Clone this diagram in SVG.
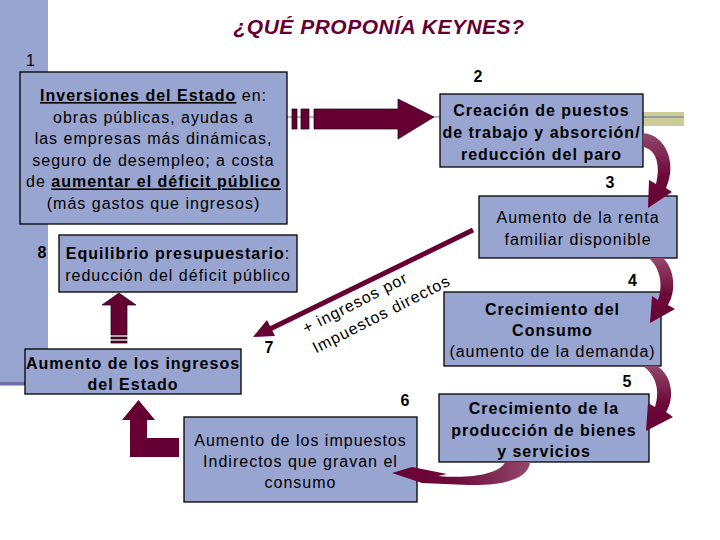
<svg xmlns="http://www.w3.org/2000/svg" width="720" height="540" viewBox="0 0 720 540">
<style>
.box{fill:#98A5D0;stroke:#000;stroke-width:1.3}
.t{font-family:"Liberation Sans",Arial,sans-serif;font-size:16px;letter-spacing:1px;fill:#000;text-anchor:middle}
.b{font-weight:bold}
.u{text-decoration:underline}
.num{font-family:"Liberation Sans",Arial,sans-serif;font-size:16px;fill:#000;text-anchor:middle}
.dr{fill:#660033;stroke:#1a0010;stroke-width:0.7}
.lbl{font-family:"Liberation Sans",Arial,sans-serif;font-size:16px;letter-spacing:1px;fill:#000}
</style>
<defs>
<linearGradient id="gv" x1="0" y1="0" x2="0" y2="1">
<stop offset="0" stop-color="#93486c"/>
<stop offset="0.55" stop-color="#6e0a3a"/>
<stop offset="1" stop-color="#660033"/>
</linearGradient>
<linearGradient id="gh" x1="1" y1="0" x2="0" y2="0">
<stop offset="0" stop-color="#93486c"/>
<stop offset="0.55" stop-color="#6e0a3a"/>
<stop offset="1" stop-color="#660033"/>
</linearGradient>
</defs>
<rect x="0" y="0" width="720" height="540" fill="#fff"/>
<g id="background">
<rect x="0" y="0" width="48" height="383" fill="#98A5D0"/>
<rect x="0" y="382" width="30" height="3.5" fill="#6C70A3"/>
<rect x="643" y="112" width="41" height="14" fill="#CCCC99"/>
<line x1="287" y1="117" x2="684" y2="117" stroke="#6C70A3" stroke-width="1.2"/>
</g>
<text x="379" y="34" font-family="'Liberation Sans',Arial,sans-serif" font-size="21" font-weight="bold" font-style="italic" letter-spacing="0.5" fill="#660033" text-anchor="middle">¿QUÉ PROPONÍA KEYNES?</text>

<g id="n1">
<rect class="box" x="20" y="72" width="267" height="152"/>
<text class="num" x="30.5" y="66">1</text>
<text class="t" x="153.5" y="101"><tspan class="b u">Inversiones del Estado</tspan> en:</text>
<text class="t" x="153.5" y="122.6">obras públicas, ayudas a</text>
<text class="t" x="153.5" y="144.2">las empresas más dinámicas,</text>
<text class="t" x="153.5" y="165.8">seguro de desempleo; a costa</text>
<text class="t" x="153.5" y="187.4">de <tspan class="b u">aumentar el déficit público</tspan></text>
<text class="t" x="153.5" y="209">(más gastos que ingresos)</text>
</g>
<g id="n2">
<rect class="box" x="440" y="94" width="203" height="73"/>
<text class="num b" x="478" y="82">2</text>
<text class="t b" x="541.5" y="116">Creación de puestos</text>
<text class="t b" x="541.5" y="138">de trabajo y absorción/</text>
<text class="t b" x="541.5" y="160">reducción del paro</text>
</g>
<g id="n3">
<rect class="box" x="479" y="196" width="198" height="62"/>
<text class="num b" x="610" y="188">3</text>
<text class="t" x="578" y="223">Aumento de la renta</text>
<text class="t" x="578" y="245">familiar disponible</text>
</g>
<g id="n4">
<rect class="box" x="444" y="292" width="217" height="74"/>
<text class="num b" x="632.5" y="286">4</text>
<text class="t b" x="552.5" y="315">Crecimiento del</text>
<text class="t b" x="552.5" y="336">Consumo</text>
<text class="t" x="552.5" y="357">(aumento de la demanda)</text>
</g>
<g id="n5">
<rect class="box" x="439" y="394" width="210" height="68"/>
<text class="num b" x="627" y="387">5</text>
<text class="t b" x="544" y="414">Crecimiento de la</text>
<text class="t b" x="544" y="436">producción de bienes</text>
<text class="t b" x="544" y="457">y servicios</text>
</g>
<g id="n6">
<rect class="box" x="184" y="417" width="233" height="85"/>
<text class="num b" x="405" y="406">6</text>
<text class="t" x="300.5" y="446">Aumento de los impuestos</text>
<text class="t" x="300.5" y="467">Indirectos que gravan el</text>
<text class="t" x="300.5" y="488">consumo</text>
</g>
<g id="n7">
<rect class="box" x="25" y="349" width="216" height="45"/>
<text class="num b" x="269" y="353">7</text>
<text class="t b" x="133" y="369">Aumento de los ingresos</text>
<text class="t b" x="133" y="390">del Estado</text>
</g>
<g id="n8">
<rect class="box" x="59" y="235" width="238" height="57"/>
<text class="num b" x="42" y="258">8</text>
<text class="t" x="178" y="259"><tspan class="b">Equilibrio presupuestario</tspan>:</text>
<text class="t" x="178" y="281">reducción del déficit público</text>
</g>

<g id="connectors">
<g id="c1-2">
<rect class="dr" x="292" y="109" width="5" height="20"/>
<rect class="dr" x="301" y="109" width="8" height="20"/>
<polygon class="dr" points="314,109 398,109 398,99 434,117 398,139 398,129 314,129"/>
</g>
<path id="c2-3" fill="url(#gv)" d="M643,133 C667,135 677,165 666,188 L672,192 L648,208 L649,180 L656,184 C661,165 656,149 643,147 Z"/>
<path id="c3-4" fill="url(#gv)" d="M649,258 L663,258 C674,268 677,290 668,305 L675,309 L650,323 L652,296 L658,300 C663,286 661,269 649,258 Z"/>
<path id="c4-5" fill="url(#gv)" d="M643,366 L657,366 C672,375 675,398 666,412 L673,417 L646,431 L648,403 L655,407 C660,392 657,376 643,366 Z"/>
<path id="c5-6" fill="url(#gh)" d="M530,462 C529,478 505,486 468,485 L422,483 L392,473 L412,467 L447,474 L438,476 C470,479 500,474 505,462 Z"/>
<polygon id="c6-7" fill="#660033" points="179,438 179,457 130,457 130,420 122,420 138.5,400 155,420 147,420 147,438"/>
<g id="c3-7">
<line x1="473" y1="230" x2="270" y2="329" stroke="#660033" stroke-width="5"/>
<polygon fill="#660033" points="253,337 267,320 275,336"/>
<g transform="translate(306,334) rotate(-27)">
<text class="lbl" x="0" y="0">+ ingresos por</text>
<text class="lbl" x="0" y="22">Impuestos directos</text>
</g>
</g>
<g id="c7-8">
<polygon class="dr" points="111,335 111,305 102,305 119,293 136,305 127,305 127,335"/>
<rect class="dr" x="111" y="337" width="16" height="2"/>
<rect class="dr" x="111" y="341" width="16" height="2"/>
</g>
</g>
</svg>
